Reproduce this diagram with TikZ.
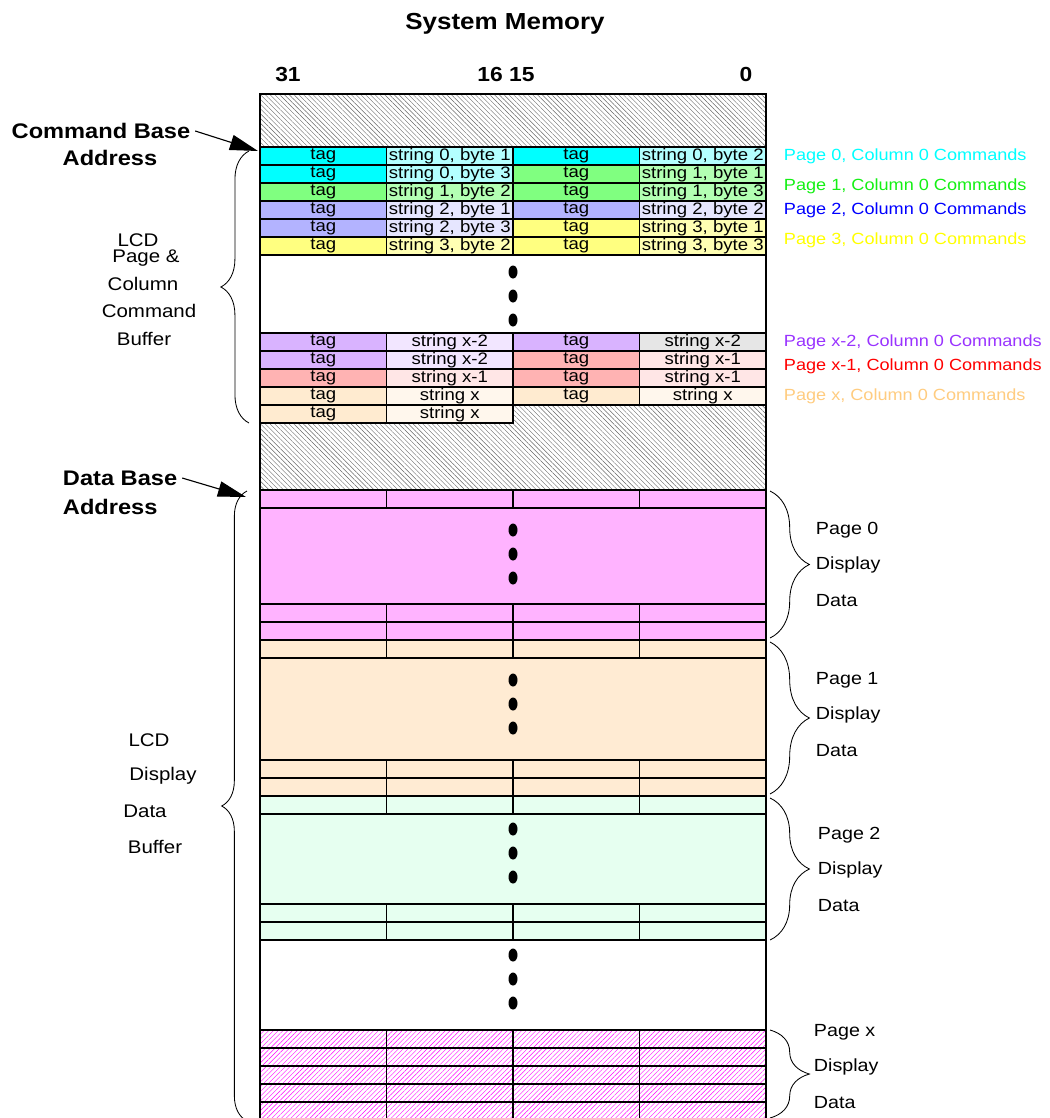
\documentclass[tikz,border=0pt]{standalone}
\usepackage{fontspec}
\setmainfont{Liberation Sans}[FakeStretch=1.12]
\usepackage{tikz}
\usetikzlibrary{positioning, arrows.meta, calc, patterns.meta, decorations.pathreplacing}
\definecolor{cyanT}{RGB}{0,255,255}
\definecolor{cyanS}{RGB}{179,255,255}
\definecolor{greenT}{RGB}{128,255,128}
\definecolor{greenS}{RGB}{179,255,179}
\definecolor{blueT}{RGB}{179,179,255}
\definecolor{blueS}{RGB}{230,230,255}
\definecolor{yellowT}{RGB}{255,255,128}
\definecolor{yellowS}{RGB}{255,255,179}
\definecolor{purpleT}{RGB}{217,179,255}
\definecolor{purpleS}{RGB}{242,230,255}
\definecolor{redT}{RGB}{255,179,179}
\definecolor{redS}{RGB}{255,230,230}
\definecolor{peachT}{RGB}{255,235,208}
\definecolor{peachS}{RGB}{255,247,237}
\definecolor{grayS}{RGB}{230,230,230}
\definecolor{pinkP}{RGB}{255,179,255}
\definecolor{peachP}{RGB}{255,235,211}
\definecolor{mintP}{RGB}{230,255,240}
\definecolor{cyanL}{RGB}{0,255,255}
\definecolor{greenL}{RGB}{20,240,20}
\definecolor{blueL}{RGB}{0,0,255}
\definecolor{yellowL}{RGB}{255,255,0}
\definecolor{purpleL}{RGB}{153,51,255}
\definecolor{redL}{RGB}{255,0,0}
\definecolor{peachL}{RGB}{255,204,128}

\begin{document}
\begin{tikzpicture}[x=0.025cm, y=-0.025cm,
    cell/.style={draw, line width=1pt, minimum width=3.1625cm, minimum height=0.45cm, inner sep=0pt, font=\fontsize{11.8}{11.8}\selectfont},
    side/.style={font=\fontsize{13}{13}\selectfont},
    pagetxt/.style={anchor=west, font=\fontsize{12.5}{12.5}\selectfont},
    basetxt/.style={font=\fontsize{15}{15}\selectfont\bfseries},
    cmdtxt/.style={anchor=west, font=\fontsize{11.5}{11.5}\selectfont},
    hatch/.style={pattern={Lines[angle=-45, distance=2.4pt, line width=0.3pt]}, pattern color=black!60},
    phatch/.style={pattern={Lines[angle=45, distance=2.4pt, line width=0.3pt]}, pattern color=magenta},
    brc/.style={decorate, decoration={brace, amplitude=#1}, semithick},
    arr/.style={-{Triangle[length=20pt, width=11pt]}, thick}
]
\useasboundingbox (0,0) rectangle (1050,1118);

% headings
\node[font=\fontsize{16.5}{16.5}\selectfont\bfseries] (title) at (505,24) {System Memory};
\node[font=\fontsize{14.5}{14.5}\selectfont\bfseries] (b31) at (288,74) {31};
\node[font=\fontsize{14.5}{14.5}\selectfont\bfseries] (b16) at (506,74) {16 15};
\node[font=\fontsize{14.5}{14.5}\selectfont\bfseries] (b0) at (746,74) {0};

% unused areas
\path[hatch] (260,94) rectangle (766,147);
\path[hatch] (260,423) -- (513,423) -- (513,405) -- (766,405) -- (766,490) -- (260,490) -- cycle;

% command buffer
\foreach \y/\ta/\fa/\xa/\tb/\fb/\xb [count=\rw] in {
    156/cyanT/cyanS/{string 0, byte 1}/cyanT/cyanS/{string 0, byte 2},
    174/cyanT/cyanS/{string 0, byte 3}/greenT/greenS/{string 1, byte 1},
    192/greenT/greenS/{string 1, byte 2}/greenT/greenS/{string 1, byte 3},
    210/blueT/blueS/{string 2, byte 1}/blueT/blueS/{string 2, byte 2},
    228/blueT/blueS/{string 2, byte 3}/yellowT/yellowS/{string 3, byte 1},
    246/yellowT/yellowS/{string 3, byte 2}/yellowT/yellowS/{string 3, byte 3},
    342/purpleT/purpleS/{string x-2}/purpleT/grayS/{string x-2},
    360/purpleT/purpleS/{string x-2}/redT/redS/{string x-1},
    378/redT/redS/{string x-1}/redT/redS/{string x-1},
    396/peachT/peachS/{string x}/peachT/peachS/{string x}} {
  \node[cell, fill=\ta] (c\rw-1) at (323.25,\y) {tag};
  \node[cell, fill=\fa] (c\rw-2) at (449.75,\y) {\xa};
  \node[cell, fill=\tb] (c\rw-3) at (576.25,\y) {tag};
  \node[cell, fill=\fb] (c\rw-4) at (702.75,\y) {\xb};
}
\node[cell, fill=peachT] (c11-1) at (323.25,414) {tag};
\node[cell, fill=peachS] (c11-2) at (449.75,414) {string x};
\foreach \s in {272,296,320} \fill (513,\s) ellipse (4.5 and 6.5);

% display data pages
\foreach \yt/\hh/\yd/\col [count=\p from 0] in {490/96/530/pinkP, 640/102/680/peachP, 796/90/829/mintP} {
  \filldraw[fill=\col, line width=1pt] (260,\yt+18) rectangle (766,\yt+18+\hh);
  \foreach \x [count=\cx] in {323.25,449.75,576.25,702.75} {
    \node[cell, fill=\col] (p\p-a\cx) at (\x,\yt+9) {};
    \node[cell, fill=\col] (p\p-b\cx) at (\x,\yt+27+\hh) {};
    \node[cell, fill=\col] (p\p-c\cx) at (\x,\yt+45+\hh) {};
  }
  \foreach \s in {0,24,48} \fill (513,\yd+\s) ellipse (4.5 and 6.5);
}
\foreach \s in {955,979,1003} \fill (513,\s) ellipse (4.5 and 6.5);
\foreach \rw in {0,...,4}
  \foreach \x [count=\cx] in {323.25,449.75,576.25,702.75}
    \node[cell, phatch] (px-\rw-\cx) at (\x,1039+18*\rw) {};

\draw[line width=1.5pt] (260,94) rectangle (766,1121);

% base addresses
\node[basetxt] (cmdbase) at (101,131) {Command Base};
\node[basetxt] (cmdaddr) at (110,158) {Address};
\coordinate (cmdtip) at (258,151);
\draw[arr] (cmdbase.east) -- (cmdtip);
\node[basetxt, anchor=west] (database) at (58,478) {Data Base};
\node[basetxt, anchor=west] (dataaddr) at (58,507) {Address};
\coordinate (datatip) at (246,497);
\draw[arr] (database.east) -- (datatip);

% braces
\draw[brc=20pt] (249,423) -- (249,151);
\draw[brc=18pt] (247,1121) -- (247,491);
\draw[brc=28pt] (770,491) -- (770,638);
\draw[brc=28pt] (770,642) -- (770,794);
\draw[brc=28pt] (770,798) -- (770,940);
\draw[brc=28pt] (770,1030) -- (770,1118);

% left labels
\foreach \txt/\x/\y [count=\i] in {LCD/138/240, Page \&/146/258, Column/143/284, Command/149/311, Buffer/144/339}
  \node[side] (cb\i) at (\x,\y) {\txt};
\foreach \txt/\x/\y [count=\i] in {LCD/149/740, Display/163/776, Data/145/811, Buffer/155/847}
  \node[side] (db\i) at (\x,\y) {\txt};

% right labels
\foreach \y/\col/\txt [count=\i] in {156/cyanL/{Page 0, Column 0 Commands}, 186/greenL/{Page 1, Column 0 Commands},
    210/blueL/{Page 2, Column 0 Commands}, 240/yellowL/{Page 3, Column 0 Commands},
    342/purpleL/{Page x-2, Column 0 Commands}, 366/redL/{Page x-1, Column 0 Commands},
    396/peachL/{Page x, Column 0 Commands}}
  \node[cmdtxt, text=\col] (cl\i) at (779,\y) {\txt};
\foreach \p/\x/\y in {0/811/530, 1/811/680, 2/813/835, x/809/1032} {
  \node[pagetxt] (pg\p-1) at (\x,\y) {Page \p};
  \node[pagetxt] (pg\p-2) at (\x,\y+35) {Display};
  \node[pagetxt] (pg\p-3) at (\x,\y+71) {Data};
}
\end{tikzpicture}
\end{document}
